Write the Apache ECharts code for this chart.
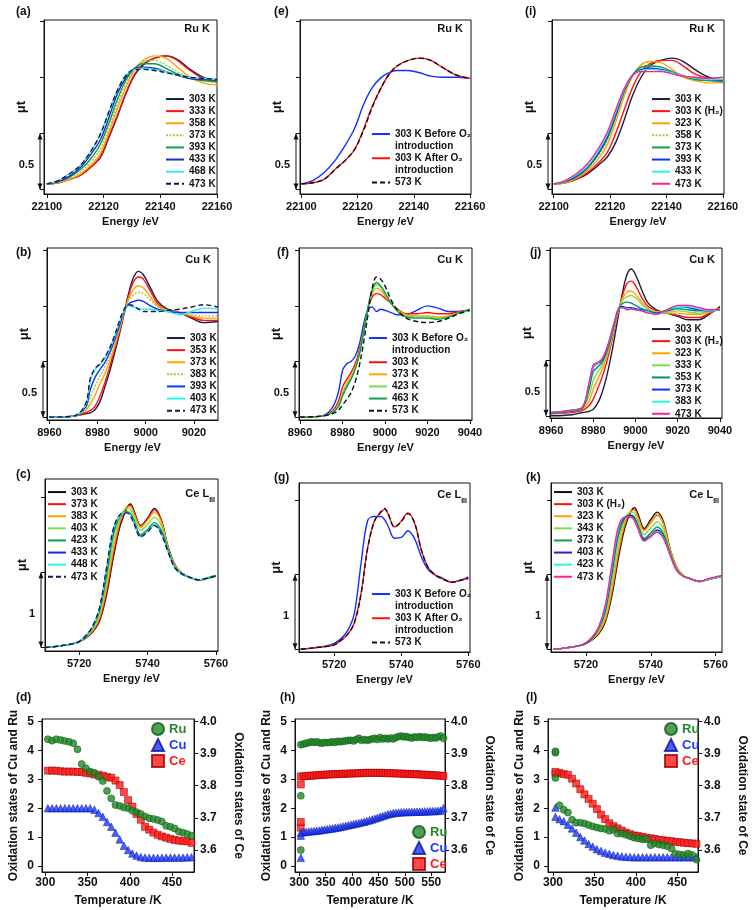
<!DOCTYPE html>
<html>
<head>
<meta charset="utf-8">
<script src="https://cdn.jsdelivr.net/npm/echarts@6.0.0/dist/echarts.min.js"></script>
<style>
html,body{margin:0;padding:0;background:#ffffff;}
#chart{width:756px;height:910px;}
</style>
</head>
<body>
<div id="chart"></div>
<script>
// ================= DATA =================
// tick label values
const XT_RU = [22100,22120,22140,22160];
const XT_CU_B = [8960,8980,9000,9020];
const XT_CU = [8960,8980,9000,9020,9040];
const XT_CE = [5720,5740,5760];
const XT_D = [300,350,400,450];
const XT_H = [300,350,400,450,500,550];
const YT_12 = [0,0.5,1,1.5];
const YT_3 = [0,1,2];
const YT_L = [0,1,2,3,4,5];
const YT_R = [3.6,3.7,3.8,3.9,4.0];

// Ru K energies
const EN_RU = [22100,22104,22108,22112,22116,22119,22122,22125,22128,22131,22134,22138,22142,22146,22150,22155,22160];
// (a)
const a303 = [0.05,0.06,0.09,0.13,0.21,0.29,0.47,0.66,0.86,1.02,1.11,1.17,1.19,1.16,1.08,1.00,0.97];
const a333 = [0.05,0.06,0.09,0.13,0.21,0.30,0.48,0.67,0.87,1.03,1.12,1.17,1.19,1.15,1.07,0.99,0.96];
const a358 = [0.05,0.06,0.09,0.14,0.23,0.33,0.52,0.73,0.92,1.07,1.15,1.19,1.17,1.09,1.01,0.95,0.93];
const a373 = [0.05,0.065,0.10,0.16,0.26,0.37,0.56,0.77,0.95,1.08,1.14,1.15,1.11,1.05,1.00,0.97,0.95];
const a393 = [0.05,0.07,0.11,0.18,0.29,0.41,0.60,0.81,0.98,1.08,1.12,1.12,1.08,1.03,0.99,0.97,0.96];
const a433 = [0.05,0.07,0.12,0.20,0.33,0.45,0.65,0.86,1.00,1.08,1.09,1.08,1.05,1.02,0.99,0.98,0.98];
const a468 = [0.05,0.08,0.14,0.22,0.36,0.50,0.70,0.89,1.02,1.07,1.08,1.07,1.05,1.02,1.00,0.99,0.98];
const a473 = [0.05,0.08,0.14,0.22,0.36,0.50,0.70,0.89,1.02,1.07,1.07,1.06,1.04,1.02,1.00,0.99,0.98];
// (e)
const eBefore = [0.05,0.08,0.15,0.26,0.41,0.55,0.75,0.90,0.99,1.04,1.06,1.06,1.04,1.01,1.00,1.00,0.99];
const eAfter  = [0.05,0.06,0.09,0.18,0.27,0.36,0.53,0.73,0.89,1.02,1.10,1.15,1.17,1.15,1.09,1.02,0.99];
const e573    = [0.05,0.06,0.09,0.18,0.27,0.36,0.52,0.72,0.89,1.02,1.10,1.15,1.17,1.15,1.09,1.02,0.99];
// (i)
const i303 = [0.05,0.06,0.09,0.14,0.22,0.29,0.42,0.62,0.84,1.00,1.10,1.15,1.17,1.14,1.07,1.00,0.97];
const iH2  = [0.05,0.06,0.09,0.15,0.24,0.33,0.50,0.71,0.91,1.05,1.12,1.15,1.15,1.10,1.03,0.99,0.98];
const i323 = [0.05,0.06,0.10,0.17,0.28,0.40,0.60,0.83,1.01,1.11,1.14,1.13,1.07,1.00,0.97,0.95,0.95];
const i358 = [0.05,0.065,0.11,0.19,0.31,0.44,0.64,0.86,1.02,1.09,1.10,1.09,1.05,1.01,0.98,0.97,0.96];
const i373 = [0.05,0.07,0.11,0.19,0.32,0.45,0.65,0.87,1.02,1.09,1.10,1.09,1.05,1.01,0.98,0.97,0.96];
const i393 = [0.05,0.07,0.12,0.20,0.33,0.47,0.67,0.88,1.02,1.07,1.08,1.07,1.04,1.01,0.99,0.98,0.97];
const i433 = [0.05,0.075,0.13,0.21,0.35,0.49,0.69,0.89,1.02,1.06,1.07,1.06,1.04,1.01,0.99,0.98,0.98];
const i473 = [0.05,0.08,0.14,0.23,0.37,0.51,0.71,0.90,1.02,1.05,1.05,1.05,1.03,1.01,1.00,0.99,1.00];

// Cu K energies (b)
const EN_CU_B = [8960,8970,8975,8977,8979,8981,8983,8985,8987,8989,8991,8993,8995,8997,8999,9002,9005,9009,9014,9019,9024,9030];
const b303 = [0.00,0.01,0.03,0.04,0.07,0.14,0.27,0.41,0.57,0.74,0.93,1.12,1.26,1.31,1.28,1.16,1.04,0.97,0.94,0.89,0.85,0.86];
const b353 = [0.00,0.01,0.04,0.06,0.10,0.19,0.31,0.45,0.60,0.76,0.93,1.10,1.22,1.26,1.24,1.13,1.02,0.96,0.94,0.90,0.87,0.87];
const b373 = [0.00,0.01,0.06,0.12,0.20,0.30,0.39,0.50,0.63,0.78,0.94,1.07,1.15,1.18,1.16,1.08,1.00,0.96,0.94,0.91,0.89,0.89];
const b383 = [0.00,0.01,0.07,0.18,0.28,0.37,0.45,0.54,0.66,0.80,0.94,1.05,1.10,1.12,1.11,1.05,0.99,0.96,0.94,0.92,0.91,0.91];
const b393 = [0.00,0.01,0.09,0.25,0.36,0.43,0.49,0.58,0.69,0.82,0.95,1.02,1.04,1.05,1.04,1.00,0.97,0.95,0.94,0.94,0.94,0.94];
const b403 = [0.00,0.01,0.11,0.33,0.43,0.47,0.53,0.61,0.72,0.85,0.96,1.00,0.99,0.98,0.97,0.97,0.96,0.95,0.92,0.95,0.98,0.97];
const b473 = [0.00,0.01,0.12,0.35,0.44,0.48,0.54,0.62,0.73,0.86,0.97,1.01,1.00,0.97,0.95,0.95,0.95,0.96,0.97,0.99,1.01,0.99];

// Cu K energies (f, j)
const EN_CU = [8960,8970,8975,8978,8980,8982,8984,8986,8988,8990,8992,8994,8996,8998,9000,9003,9006,9010,9015,9020,9025,9030,9035,9040];
const fBefore = [0.00,0.01,0.08,0.22,0.42,0.48,0.50,0.55,0.66,0.84,0.97,0.99,0.95,0.97,0.96,0.94,0.92,0.92,0.96,1.00,0.98,0.95,0.95,0.96];
const f303 = [0.00,0.01,0.05,0.14,0.27,0.34,0.40,0.48,0.61,0.79,0.97,1.08,1.11,1.10,1.07,1.02,0.97,0.93,0.93,0.94,0.93,0.93,0.95,0.96];
const f373 = [0.00,0.01,0.04,0.11,0.22,0.30,0.37,0.45,0.58,0.77,0.97,1.11,1.16,1.14,1.09,1.02,0.96,0.92,0.91,0.91,0.90,0.91,0.94,0.96];
const f423 = [0.00,0.01,0.04,0.10,0.20,0.28,0.35,0.44,0.57,0.77,0.98,1.13,1.19,1.17,1.11,1.02,0.96,0.91,0.90,0.90,0.89,0.90,0.94,0.96];
const f463 = [0.00,0.01,0.04,0.09,0.19,0.27,0.34,0.43,0.57,0.77,0.99,1.15,1.21,1.18,1.12,1.02,0.95,0.90,0.89,0.89,0.88,0.90,0.94,0.97];
const f573 = [0.00,0.01,0.03,0.06,0.11,0.16,0.22,0.32,0.47,0.68,0.92,1.16,1.26,1.24,1.18,1.05,0.96,0.89,0.86,0.85,0.86,0.89,0.93,0.96];

const j303 = [0.00,0.01,0.03,0.04,0.06,0.11,0.20,0.33,0.50,0.70,0.92,1.13,1.28,1.33,1.28,1.14,1.02,0.96,0.93,0.90,0.87,0.87,0.92,0.99];
const jH2  = [0.02,0.03,0.05,0.09,0.15,0.24,0.34,0.46,0.61,0.78,0.95,1.10,1.20,1.22,1.18,1.07,0.99,0.95,0.93,0.91,0.89,0.89,0.93,0.98];
const j323 = [0.02,0.04,0.06,0.13,0.24,0.33,0.41,0.51,0.64,0.80,0.96,1.07,1.12,1.13,1.10,1.03,0.97,0.94,0.93,0.93,0.92,0.92,0.94,0.97];
const j333 = [0.02,0.04,0.07,0.18,0.32,0.39,0.45,0.54,0.66,0.81,0.96,1.05,1.08,1.09,1.07,1.01,0.96,0.94,0.94,0.95,0.94,0.93,0.95,0.97];
const j353 = [0.02,0.04,0.07,0.24,0.40,0.44,0.48,0.56,0.68,0.83,0.97,1.02,1.03,1.02,1.00,0.97,0.95,0.93,0.95,0.97,0.96,0.95,0.95,0.97];
const j373 = [0.03,0.05,0.08,0.28,0.44,0.47,0.50,0.58,0.70,0.84,0.97,0.99,0.98,0.98,0.97,0.96,0.94,0.93,0.96,0.99,0.98,0.96,0.95,0.96];
const j383 = [0.03,0.05,0.08,0.29,0.45,0.47,0.51,0.59,0.71,0.85,0.97,0.98,0.97,0.97,0.96,0.95,0.94,0.92,0.96,0.99,0.99,0.97,0.95,0.96];
const j473 = [0.03,0.05,0.08,0.30,0.46,0.48,0.51,0.59,0.71,0.85,0.97,0.98,0.96,0.97,0.96,0.95,0.93,0.92,0.96,1.00,1.00,0.98,0.96,0.96];

// Ce LIII energies
const EN_CE = [5710,5714,5718,5720,5722,5724,5726,5728,5730,5732,5734,5735,5736,5738,5740,5742,5744,5746,5748,5750,5752,5755,5758,5760];
const EN_CE_K = [5710,5714,5718,5720,5722,5724,5726,5728,5730,5732,5734,5735,5736,5738,5740,5742,5744,5746,5748,5750,5752,5755,5758,5762];
const c303 = [0.00,0.02,0.05,0.08,0.13,0.21,0.36,0.70,1.20,1.62,1.86,1.91,1.82,1.62,1.72,1.85,1.70,1.34,1.10,0.99,0.94,0.90,0.93,0.95];
const c373 = [0.00,0.02,0.05,0.08,0.14,0.22,0.38,0.74,1.25,1.66,1.87,1.89,1.80,1.61,1.71,1.83,1.69,1.33,1.10,0.99,0.94,0.90,0.93,0.95];
const c383 = [0.00,0.02,0.05,0.08,0.14,0.23,0.41,0.80,1.31,1.69,1.87,1.87,1.78,1.60,1.69,1.80,1.67,1.32,1.09,0.99,0.94,0.89,0.92,0.94];
const c403 = [0.00,0.02,0.05,0.08,0.15,0.25,0.46,0.88,1.40,1.73,1.85,1.83,1.74,1.56,1.64,1.73,1.62,1.31,1.08,0.99,0.94,0.90,0.93,0.95];
const c423 = [0.00,0.02,0.05,0.08,0.15,0.27,0.50,0.96,1.50,1.75,1.81,1.78,1.69,1.50,1.57,1.66,1.56,1.29,1.07,0.98,0.94,0.90,0.93,0.95];
const c433 = [0.00,0.02,0.05,0.08,0.16,0.28,0.52,1.02,1.55,1.76,1.80,1.77,1.67,1.48,1.55,1.63,1.53,1.28,1.06,0.98,0.94,0.90,0.93,0.96];
const c448 = [0.00,0.02,0.05,0.08,0.16,0.28,0.53,1.04,1.57,1.76,1.80,1.76,1.66,1.47,1.55,1.63,1.52,1.27,1.06,0.98,0.94,0.90,0.94,0.96];
const c473 = [0.00,0.02,0.05,0.08,0.16,0.29,0.54,1.06,1.58,1.77,1.79,1.75,1.65,1.47,1.54,1.62,1.51,1.27,1.06,0.98,0.94,0.90,0.93,0.96];
// (g)
const gBefore = [0.00,0.02,0.05,0.08,0.14,0.25,0.48,1.15,1.73,1.78,1.78,1.74,1.66,1.49,1.50,1.59,1.48,1.24,1.07,1.00,0.96,0.90,0.93,0.97];
const gAfter  = [0.00,0.02,0.04,0.06,0.12,0.20,0.36,0.75,1.37,1.72,1.84,1.88,1.82,1.64,1.72,1.83,1.69,1.33,1.10,1.00,0.95,0.90,0.93,0.95];
const g573    = [0.00,0.02,0.04,0.06,0.12,0.20,0.35,0.74,1.36,1.72,1.85,1.89,1.83,1.64,1.71,1.82,1.69,1.33,1.10,1.00,0.95,0.90,0.93,0.95];
// (k)
const k303 = [0.00,0.02,0.05,0.08,0.13,0.21,0.37,0.72,1.22,1.63,1.86,1.90,1.82,1.62,1.74,1.84,1.70,1.34,1.10,0.99,0.95,0.91,0.94,0.98];
const kH2  = [0.00,0.02,0.05,0.08,0.14,0.23,0.40,0.77,1.28,1.67,1.86,1.87,1.78,1.60,1.70,1.80,1.67,1.33,1.10,0.99,0.95,0.91,0.94,0.98];
const k323 = [0.00,0.02,0.05,0.08,0.14,0.23,0.41,0.80,1.31,1.69,1.86,1.86,1.77,1.59,1.70,1.81,1.67,1.33,1.10,0.99,0.95,0.91,0.94,0.98];
const k343 = [0.00,0.02,0.05,0.08,0.15,0.26,0.47,0.90,1.42,1.74,1.84,1.82,1.72,1.54,1.63,1.71,1.60,1.30,1.08,0.99,0.95,0.91,0.94,0.98];
const k373 = [0.00,0.02,0.05,0.08,0.15,0.28,0.52,1.00,1.52,1.76,1.80,1.77,1.67,1.49,1.56,1.64,1.54,1.28,1.07,0.98,0.95,0.91,0.94,0.98];
const k403 = [0.00,0.02,0.05,0.08,0.16,0.29,0.55,1.06,1.58,1.77,1.79,1.75,1.65,1.47,1.53,1.60,1.51,1.27,1.06,0.98,0.95,0.91,0.94,0.98];
const k423 = [0.00,0.02,0.05,0.09,0.17,0.30,0.58,1.10,1.61,1.77,1.77,1.73,1.63,1.45,1.52,1.58,1.49,1.26,1.06,0.98,0.95,0.91,0.94,0.98];
const k473 = [0.00,0.02,0.05,0.09,0.17,0.31,0.60,1.14,1.64,1.77,1.77,1.72,1.62,1.45,1.51,1.57,1.48,1.26,1.06,0.98,0.95,0.91,0.95,0.99];

// Oxidation states vs temperature
const T_D = [303,308,313,318,323,328,333,338,343,348,353,358,363,368,373,378,383,388,393,398,403,408,413,418,423,428,433,438,443,448,453,458,463,468,473];
const RU_D = [4.39,4.34,4.39,4.36,4.33,4.30,4.25,4.04,3.53,3.38,3.27,3.23,3.09,2.94,2.60,2.34,2.11,2.08,2.02,2.00,1.91,1.86,1.80,1.71,1.65,1.63,1.59,1.54,1.39,1.36,1.30,1.19,1.15,1.11,1.05];
const CU_D = [2.00,2.00,2.00,2.00,2.00,2.00,2.00,2.00,2.00,2.00,2.00,1.95,1.83,1.70,1.52,1.36,1.15,0.92,0.70,0.55,0.43,0.36,0.31,0.29,0.28,0.28,0.28,0.28,0.29,0.29,0.29,0.29,0.29,0.30,0.30];
const CE_D = [3.847,3.847,3.847,3.845,3.844,3.844,3.844,3.843,3.843,3.840,3.838,3.835,3.834,3.831,3.827,3.825,3.816,3.802,3.780,3.755,3.735,3.712,3.694,3.672,3.663,3.654,3.647,3.642,3.638,3.634,3.631,3.629,3.627,3.627,3.622];

const T_H = [303,308,313,318,323,328,333,338,343,348,353,358,363,368,373,378,383,388,393,398,403,408,413,418,423,428,433,438,443,448,453,458,463,468,473,478,483,488,493,498,503,508,513,518,523,528,533,538,543,548,553,558,563,568,573];
const RU_H = [4.20,4.22,4.25,4.27,4.30,4.28,4.30,4.27,4.25,4.28,4.27,4.28,4.30,4.28,4.32,4.30,4.32,4.33,4.35,4.35,4.33,4.38,4.42,4.35,4.38,4.35,4.37,4.40,4.42,4.38,4.45,4.40,4.42,4.40,4.43,4.40,4.45,4.48,4.50,4.47,4.48,4.45,4.43,4.47,4.45,4.48,4.45,4.47,4.45,4.42,4.45,4.43,4.47,4.50,4.42];
const CU_H = [1.15,1.17,1.18,1.19,1.20,1.21,1.22,1.23,1.25,1.26,1.27,1.29,1.30,1.32,1.33,1.35,1.37,1.39,1.41,1.43,1.45,1.47,1.49,1.51,1.53,1.56,1.58,1.61,1.64,1.67,1.70,1.73,1.76,1.79,1.81,1.83,1.84,1.85,1.86,1.86,1.87,1.87,1.87,1.88,1.88,1.88,1.89,1.89,1.89,1.90,1.90,1.90,1.91,1.92,2.00];
const CE_H = [3.829,3.829,3.830,3.831,3.831,3.832,3.833,3.833,3.834,3.834,3.835,3.835,3.836,3.836,3.836,3.837,3.837,3.837,3.838,3.838,3.838,3.839,3.839,3.839,3.840,3.840,3.840,3.840,3.840,3.840,3.840,3.840,3.839,3.839,3.839,3.839,3.838,3.838,3.838,3.837,3.837,3.837,3.836,3.836,3.836,3.835,3.835,3.834,3.834,3.833,3.833,3.832,3.832,3.831,3.830];
const T_EXTRA = 303;
const RU_H_EX = [0.55,2.43];
const CU_H_EX = [0.28,1.05];
const CE_H_EX = [3.669,3.687,3.804];

const T_L = [303,308,313,318,323,328,333,338,343,348,353,358,363,368,373,378,383,388,393,398,403,408,413,418,423,428,433,438,443,448,453,458,463,468,473];
const RU_L = [3.05,2.10,1.95,1.85,1.60,1.50,1.50,1.47,1.42,1.37,1.33,1.30,1.28,1.22,1.25,1.12,1.12,1.08,1.03,0.98,0.95,0.92,0.92,0.72,0.78,0.74,0.72,0.68,0.60,0.42,0.40,0.38,0.43,0.38,0.22];
const CU_L = [1.70,1.62,1.55,1.43,1.30,1.15,1.00,0.88,0.76,0.67,0.58,0.52,0.46,0.42,0.38,0.35,0.33,0.32,0.31,0.30,0.30,0.30,0.30,0.30,0.30,0.30,0.30,0.30,0.30,0.30,0.30,0.30,0.30,0.30,0.30];
const CE_L = [3.838,3.840,3.836,3.834,3.822,3.807,3.789,3.773,3.759,3.744,3.727,3.710,3.696,3.683,3.674,3.667,3.660,3.654,3.649,3.645,3.643,3.640,3.638,3.636,3.634,3.631,3.630,3.628,3.627,3.625,3.624,3.622,3.621,3.620,3.619];
const RU_L_EX = [3.92,3.97];
const CU_L_EX = [2.02];
const CE_L_EX = [3.843];

// ================= STYLE / LAYOUT =================
const FONT = '"Liberation Sans", Arial, Helvetica, sans-serif';
const INK = '#111111';
const K = {black:'#111111', dk:'#1c1c40', red:'#ff1010', orange:'#ffa200', lime:'#9ad13b', ltgreen:'#80dd4a', green:'#0aa04c', navy:'#2525c8', cyan:'#2ff0e2', dashnavy:'#16164e', blue:'#1030ff', pink:'#ff2090', teal:'#00906e'};
const SOLID = 'solid', DASH = [5,3], DOT = [2,1.5];
const INTRO = null;

const spectra = [
 {id:'a', g:[44,20,173,174], xr:[22099,22160], xt:XT_RU, yr:[-0.04,1.51], yt:YT_12, bar:0.5, ex:EN_RU, lg:[165,93], el:[210,29,'Ru K'], tag:[16,6,'(a)'],
  s:[['303 K',a303,K.dk,SOLID],['333 K',a333,K.red,SOLID],['358 K',a358,K.orange,SOLID],['373 K',a373,K.lime,DOT],['393 K',a393,K.green,SOLID],['433 K',a433,K.navy,SOLID],['468 K',a468,K.cyan,SOLID],['473 K',a473,K.dashnavy,DASH]]},
 {id:'e', g:[300,20,171,174], xr:[22099.5,22160.3], xt:XT_RU, yr:[-0.04,1.51], yt:YT_12, bar:0.5, ex:EN_RU, lg:[371,128], el:[463,29,'Ru K'], tag:[274,6,'(e)'],
  s:[['303 K Before O₂',eBefore,K.blue,SOLID],['introduction|1',INTRO],['303 K After O₂',eAfter,K.red,SOLID],['introduction|2',INTRO],['573 K',e573,K.black,DASH]]},
 {id:'i', g:[552,20,172,174], xr:[22099.4,22160.4], xt:XT_RU, yr:[-0.04,1.51], yt:YT_12, bar:0.5, ex:EN_RU, lg:[651,93], el:[715,29,'Ru K'], tag:[525,6,'(i)'],
  s:[['303 K',i303,K.dk,SOLID],['303 K (H₂)',iH2,K.red,SOLID],['323 K',i323,K.orange,SOLID],['358 K',i358,K.lime,DOT],['373 K',i373,K.green,SOLID],['393 K',i393,K.blue,SOLID],['433 K',i433,K.cyan,SOLID],['473 K',i473,K.pink,SOLID]]},
 {id:'b', g:[47,248,171,172], xr:[8959,9030], xt:XT_CU_B, yr:[-0.025,1.52], yt:YT_12, bar:0.5, ex:EN_CU_B, lg:[166,332], el:[211,260,'Cu K'], tag:[16,247,'(b)'],
  s:[['303 K',b303,K.dk,SOLID],['353 K',b353,K.red,SOLID],['373 K',b373,K.orange,SOLID],['383 K',b383,K.lime,DOT],['393 K',b393,K.blue,SOLID],['403 K',b403,K.cyan,SOLID],['473 K',b473,K.dashnavy,DASH]]},
 {id:'f', g:[299,248,173,172], xr:[8959.5,9041], xt:XT_CU, yr:[-0.025,1.52], yt:YT_12, bar:0.5, ex:EN_CU, lg:[368,332], el:[463,260,'Cu K'], tag:[277,247,'(f)'],
  s:[['303 K Before O₂',fBefore,K.blue,SOLID],['introduction|1',INTRO],['303 K',f303,K.red,SOLID],['373 K',f373,K.orange,SOLID],['423 K',f423,K.ltgreen,SOLID],['463 K',f463,K.green,SOLID],['573 K',f573,K.black,DASH]]},
 {id:'j', g:[550,248,172,170], xr:[8959.5,9041], xt:XT_CU, yr:[-0.02,1.52], yt:YT_12, bar:0.5, ex:EN_CU, lg:[651,323], el:[715,260,'Cu K'], tag:[530,247,'(j)'],
  s:[['303 K',j303,K.dk,SOLID],['303 K (H₂)',jH2,K.red,SOLID],['323 K',j323,K.orange,SOLID],['333 K',j333,K.ltgreen,SOLID],['353 K',j353,K.teal,SOLID],['373 K',j373,K.blue,SOLID],['383 K',j383,K.cyan,SOLID],['473 K',j473,K.pink,SOLID]]},
 {id:'c', g:[45,479,173,172], xr:[5710,5760.6], xt:XT_CE, yr:[-0.045,2.24], yt:YT_3, bar:1, ex:EN_CE, lg:[47,486], el:[215,494,'Ce'], tag:[16,469,'(c)'],
  s:[['303 K',c303,K.black,SOLID],['373 K',c373,K.red,SOLID],['383 K',c383,K.orange,SOLID],['403 K',c403,K.ltgreen,SOLID],['423 K',c423,K.green,SOLID],['433 K',c433,K.navy,SOLID],['448 K',c448,K.cyan,SOLID],['473 K',c473,K.dashnavy,DASH]]},
 {id:'g', g:[299,483,171,169], xr:[5709.5,5760.5], xt:XT_CE, yr:[-0.036,2.23], yt:YT_3, bar:1, ex:EN_CE, lg:[371,588], el:[467,495,'Ce'], tag:[274,472,'(g)'],
  s:[['303 K Before O₂',gBefore,K.blue,SOLID],['introduction|1',INTRO],['303 K After O₂',gAfter,K.red,SOLID],['introduction|2',INTRO],['573 K',g573,K.black,DASH]]},
 {id:'k', g:[551,483,171,169], xr:[5709.2,5762], xt:XT_CE, yr:[-0.036,2.23], yt:YT_3, bar:1, ex:EN_CE_K, lg:[553,486], el:[719,495,'Ce'], tag:[526,472,'(k)'],
  s:[['303 K',k303,K.black,SOLID],['303 K (H₂)',kH2,K.red,SOLID],['323 K',k323,K.orange,SOLID],['343 K',k343,K.ltgreen,SOLID],['373 K',k373,K.green,SOLID],['403 K',k403,K.navy,SOLID],['423 K',k423,K.cyan,SOLID],['473 K',k473,K.pink,SOLID]]}
];

const RU_C = '#23882a', CU_C = '#1a36ff', CE_C = '#ff1a1a';
const scat = [
 {id:'d', g:[42,719,152,153], xr:[296,476], xt:XT_D, T:T_D, ru:RU_D, cu:CU_D, ce:CE_D, ex:null, lg:[151,722], rname:'Oxidation states of Ce', tag:[16,692,'(d)']},
 {id:'h', g:[295,719,150,153], xr:[292,576], xt:XT_H, T:T_H, ru:RU_H, cu:CU_H, ce:CE_H, ex:[RU_H_EX,CU_H_EX,CE_H_EX], lg:[412,825], rname:'Oxidation state of Ce', tag:[280,692,'(h)']},
 {id:'l', g:[548,719,150,153], xr:[294,475], xt:XT_D, T:T_L, ru:RU_L, cu:CU_L, ce:CE_L, ex:[RU_L_EX,CU_L_EX,CE_L_EX], lg:[664,722], rname:'Oxidation state of Ce', tag:[526,692,'(l)']}
];

function pairs(xs, ys){ return ys.map(function(y,i){ return [xs[i], y]; }); }
function bold(sz, col){ return {fontFamily:FONT, fontWeight:'bold', fontSize:sz, color:col||INK}; }
function plain(v){ return String(v); }

const option = {animation:false, backgroundColor:'#ffffff', textStyle:{fontFamily:FONT},
  grid:[], xAxis:[], yAxis:[], series:[], legend:[]};

spectra.forEach(function(p, i){
  option.grid.push({left:p.g[0], top:p.g[1], width:p.g[2], height:p.g[3], show:true, borderColor:INK, borderWidth:1, containLabel:false, outerBoundsMode:'none'});
  option.xAxis.push({type:'value', gridIndex:i, min:p.xr[0], max:p.xr[1],
    axisLine:{show:true, onZero:false, lineStyle:{color:INK, width:1}},
    axisTick:{show:true, customValues:p.xt, length:4, lineStyle:{color:INK}},
    axisLabel:Object.assign({show:true, customValues:p.xt, margin:7, formatter:plain}, bold(11)),
    splitLine:{show:false}, name:'Energy /eV', nameLocation:'middle', nameGap:22, nameMoveOverlap:false,
    nameTextStyle:bold(11)});
  option.yAxis.push({type:'value', gridIndex:i, min:p.yr[0], max:p.yr[1],
    axisLine:{show:true, onZero:false, lineStyle:{color:INK, width:1}},
    axisTick:{show:true, customValues:p.yt, length:4, lineStyle:{color:INK}},
    axisLabel:{show:false}, splitLine:{show:false},
    name:'μt', nameLocation:'middle', nameGap:16, nameRotate:90, nameMoveOverlap:false, nameTextStyle:bold(13)});
  const items = [];
  p.s.forEach(function(s){
    const nm = p.id + '|' + s[0];
    if (s[1] === null) {
      items.push({name:nm, lineStyle:{opacity:0}, itemStyle:{opacity:0}});
      option.series.push({type:'line', name:nm, xAxisIndex:i, yAxisIndex:i, data:[], symbol:'none',
        lineStyle:{opacity:0, color:'#ffffff'}, itemStyle:{opacity:0, color:'#ffffff'}});
    } else {
      items.push({name:nm});
      option.series.push({type:'line', name:nm, xAxisIndex:i, yAxisIndex:i, data:pairs(p.ex, s[1]),
        showSymbol:false, symbol:'none', smooth:0.35, clip:true,
        lineStyle:{color:s[2], width:1.4, type:s[3]}, itemStyle:{color:s[2]}, emphasis:{disabled:true}});
    }
  });
  option.legend.push({left:p.lg[0], top:p.lg[1], orient:'vertical', padding:0, itemGap:0, itemWidth:18, itemHeight:8,
    selectedMode:false, data:items, formatter:function(n){ return n.split('|')[1]; },
    itemStyle:{opacity:0}, lineStyle:{width:2},
    textStyle:Object.assign({lineHeight:12.1}, bold(10))});
});

scat.forEach(function(p, k){
  const gi = spectra.length + k;
  const yl = spectra.length + 2*k, yr = yl + 1;
  option.grid.push({left:p.g[0], top:p.g[1], width:p.g[2], height:p.g[3], show:true, borderColor:INK, borderWidth:1, containLabel:false, outerBoundsMode:'none'});
  option.xAxis.push({type:'value', gridIndex:gi, min:p.xr[0], max:p.xr[1],
    axisLine:{show:true, onZero:false, lineStyle:{color:INK}},
    axisTick:{show:true, customValues:p.xt, length:4, lineStyle:{color:INK}},
    axisLabel:Object.assign({customValues:p.xt, margin:5, formatter:plain}, bold(12)),
    splitLine:{show:false}, name:'Temperature /K', nameLocation:'middle', nameGap:23, nameMoveOverlap:false, nameTextStyle:bold(12)});
  option.yAxis.push({type:'value', gridIndex:gi, position:'left', min:-0.21, max:5.09,
    axisLine:{show:true, onZero:false, lineStyle:{color:INK}},
    axisTick:{show:true, customValues:YT_L, length:4, lineStyle:{color:INK}},
    axisLabel:Object.assign({customValues:YT_L, margin:8}, bold(12)),
    splitLine:{show:false}, name:'Oxidation states of Cu and Ru', nameLocation:'middle', nameGap:22, nameRotate:90, nameMoveOverlap:false, nameTextStyle:bold(12)});
  option.yAxis.push({type:'value', gridIndex:gi, position:'right', min:3.531, max:4.008,
    axisLine:{show:true, onZero:false, lineStyle:{color:INK}},
    axisTick:{show:true, customValues:YT_R, length:4, lineStyle:{color:INK}},
    axisLabel:Object.assign({customValues:YT_R, margin:6, formatter:function(v){ return v.toFixed(1); }}, bold(12)),
    splitLine:{show:false}, name:p.rname, nameLocation:'middle', nameGap:38, nameRotate:-90, nameMoveOverlap:false, nameTextStyle:bold(12)});
  let ce = pairs(p.T, p.ce), cu = pairs(p.T, p.cu), ru = pairs(p.T, p.ru);
  if (p.ex) {
    p.ex[0].forEach(function(v){ ru.push([T_EXTRA, v]); });
    p.ex[1].forEach(function(v){ cu.push([T_EXTRA, v]); });
    p.ex[2].forEach(function(v){ ce.push([T_EXTRA, v]); });
  }
  option.series.push({type:'scatter', name:p.id+'|Ce', xAxisIndex:gi, yAxisIndex:yr, data:ce, symbol:'rect', symbolSize:7, clip:false,
    itemStyle:{color:CE_C, borderColor:'#a00000', borderWidth:0.7}, emphasis:{disabled:true}});
  option.series.push({type:'scatter', name:p.id+'|Cu', xAxisIndex:gi, yAxisIndex:yl, data:cu, symbol:'triangle', symbolSize:7.5, clip:false,
    itemStyle:{color:CU_C, borderColor:'#0a1890', borderWidth:0.6}, emphasis:{disabled:true}});
  option.series.push({type:'scatter', name:p.id+'|Ru', xAxisIndex:gi, yAxisIndex:yl, data:ru, symbol:'circle', symbolSize:7, clip:false,
    itemStyle:{color:RU_C, borderColor:'#0d5a10', borderWidth:0.7}, emphasis:{disabled:true}});
  option.legend.push({left:p.lg[0], top:p.lg[1], orient:'vertical', padding:0, itemGap:2, itemWidth:12, itemHeight:12,
    selectedMode:false, formatter:function(n){ return n.split('|')[1]; }, textStyle:Object.assign({lineHeight:12}, bold(13)),
    data:[{name:p.id+'|Ru', textStyle:{color:RU_C}}, {name:p.id+'|Cu', textStyle:{color:CU_C}}, {name:p.id+'|Ce', textStyle:{color:CE_C}}]});
});

const chart = echarts.init(document.getElementById('chart'), null, {renderer:'canvas', width:756, height:910});
chart.setOption(option);

// annotations: panel tags, edge labels, scale bars
const F = function(sz){ return 'bold ' + sz + 'px ' + FONT; };
const els = [];
spectra.concat(scat).forEach(function(p){
  els.push({type:'text', x:p.tag[0], y:p.tag[1], style:{text:p.tag[2], font:F(12), fill:INK, align:'left', verticalAlign:'top'}});
});
spectra.forEach(function(p, i){
  if (p.el[2] === 'Ce') {
    els.push({type:'text', x:p.el[0], y:p.el[1], style:{text:'{a|Ce L}{b|III}', align:'right', verticalAlign:'middle', fill:INK,
      rich:{a:{font:F(11), fill:INK, lineHeight:14}, b:{font:F(7), fill:INK, lineHeight:8, verticalAlign:'bottom', padding:[0,0,-3,0]}}}});
  } else {
    els.push({type:'text', x:p.el[0], y:p.el[1], style:{text:p.el[2], font:F(11), fill:INK, align:'right', verticalAlign:'middle'}});
  }
  const y0 = chart.convertToPixel({yAxisIndex:i}, 0);
  const y1 = chart.convertToPixel({yAxisIndex:i}, p.bar);
  const ax = p.g[0] - 4;
  els.push({type:'line', shape:{x1:ax, y1:y0, x2:ax, y2:y1}, style:{stroke:INK, lineWidth:1}});
  els.push({type:'polygon', shape:{points:[[ax,y1],[ax-2.5,y1+6],[ax+2.5,y1+6]]}, style:{fill:INK}});
  els.push({type:'polygon', shape:{points:[[ax,y0],[ax-2.5,y0-6],[ax+2.5,y0-6]]}, style:{fill:INK}});
  els.push({type:'text', x:ax-6, y:(y0+y1)/2+4, style:{text:String(p.bar), font:F(11), fill:INK, align:'right', verticalAlign:'middle'}});
});
chart.setOption({graphic:{elements:els}});
</script>
</body>
</html>
